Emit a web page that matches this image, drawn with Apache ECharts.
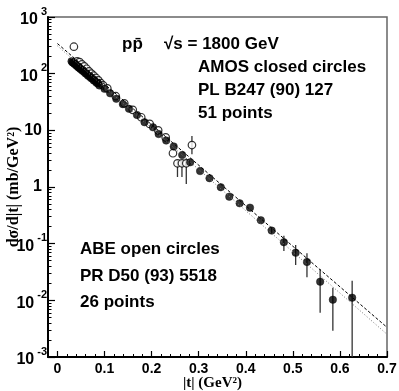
<!DOCTYPE html>
<html><head><meta charset="utf-8">
<script src="https://cdn.jsdelivr.net/npm/echarts@6/dist/echarts.min.js"></script>
<style>html,body{margin:0;padding:0;background:#fff}#c{width:399px;height:391px}</style>
</head><body><div id="c"></div>
<script>
// AMOS (closed circles), 51 points
const amosT = [0.030,0.032,0.034,0.036,0.038,0.040,0.042,0.044,0.046,0.048,0.050,0.053,0.056,0.059,0.062,0.065,0.068,0.071,0.074,0.077,0.080,0.083,0.086,0.089,
  0.100,0.112,0.125,0.139,0.152,0.169,0.185,0.203,0.215,0.231,0.247,0.265,0.282,0.303,0.323,0.347,
  0.365,0.387,0.409,0.432,0.455,0.481,0.506,0.530,0.558,0.585,0.626];
const amosY = [165,158,155,149,146,139,137,130,128,122,120,113,109,102,99,92,90,84,82,76,74,69,67,62,
  54,45,36,29,24,18.7,13.9,11.3,8.6,6.6,5.2,3.67,2.73,1.91,1.43,0.99,
  0.674,0.516,0.432,0.259,0.170,0.106,0.0693,0.0475,0.0213,0.01026,0.01113];
const amosErrT  = [0.455,0.481,0.506,0.530,0.558,0.585,0.626];
const amosErrLo = [0.150,0.0743,0.042,0.0255,0.00605,0.0029,0.001];
const amosErrHi = [0.192,0.138,0.0948,0.0676,0.0353,0.0167,0.0222];
// ABE (open circles), 26 points
const abeT = [0.035,0.042,0.047,0.052,0.057,0.062,0.067,0.072,0.077,0.082,0.087,0.092,0.097,
  0.106,0.124,0.142,0.160,0.178,0.196,0.214,0.230,0.2454,0.255,0.2645,0.2737,0.2857];
const abeY = [299,165,160,146,135,122,110,100,92,84,76,68,62,
  55,40,30,23,17,13,10,7.5,3.94,2.62,2.62,2.62,5.5];
const abeErrT  = [0.255,0.2645,0.2737,0.2857];
const abeErrLo = [1.5,1.5,1.13,3.8];
const abeErrHi = [3.0,3.0,3.2,7.94];
// fits
const fitDashT = [0, 0.7];
const fitDashY = [340, 0.00334];
const fitDotT = [0, 0.7];
const fitDotY = [310, 0.00252];
// ticks
const xMajor = [0,0.1,0.2,0.3,0.4,0.5,0.6,0.7];
const xMinor = [];
for (let i = -1; i <= 35; i++) xMinor.push(+(i*0.02).toFixed(2));
const yDecades = [0.001,0.01,0.1,1,10,100,1000];
const yMinor = [];
for (let d = -3; d < 3; d++) for (let k = 2; k <= 9; k++) yMinor.push(+(k*Math.pow(10,d)).toPrecision(3));

const SANS = 'Liberation Sans, Arial, sans-serif';
const SERIF = 'Liberation Serif, Times New Roman, serif';

const zip = (a,b) => a.map((v,i)=>[v,b[i]]);
const zip3 = (a,b,c) => a.map((v,i)=>[v,b[i],c[i]]);

function errRender(params, api) {
  const p1 = api.coord([api.value(0), api.value(1)]);
  const p2 = api.coord([api.value(0), api.value(2)]);
  return {type:'line', shape:{x1:p1[0],y1:p1[1],x2:p2[0],y2:p2[1]}, style:{stroke:'#333', lineWidth:1.3}};
}

const chart = echarts.init(document.getElementById('c'), null, {renderer:'canvas'});
const txt = (text, left, top) => ({text, left, top, padding:0, textStyle:{fontFamily:SANS, fontWeight:'bold', fontSize:17, lineHeight:17, color:'#000'}});
const option = {
  animation:false,
  title:[
    txt('pp\u0304', 122, 36),
    txt('\u221As = 1800 GeV', 164, 36),
    txt('AMOS closed circles', 198, 59),
    txt('PL B247 (90) 127', 198, 82),
    txt('51 points', 198, 105),
    txt('ABE open circles', 80, 241),
    txt('PR D50 (93) 5518', 80, 268),
    txt('26 points', 80, 294)
  ],
  grid:{left:48, top:17, right:12, bottom:34, outerBoundsMode:'none', containLabel:false,
        show:true, borderColor:'#666', borderWidth:1.5, backgroundColor:'transparent'},
  xAxis:[
    {type:'value', min:-0.02, max:0.7, position:'bottom',
     axisLine:{show:true, onZero:false, lineStyle:{color:'#000', width:2}},
     axisTick:{show:true, inside:true, length:6, customValues:xMajor, lineStyle:{color:'#000', width:1.2}},
     axisLabel:{customValues:xMajor, formatter:v=>String(+v.toFixed(1)), fontFamily:SANS, fontWeight:'bold', fontSize:14, color:'#000', margin:5},
     splitLine:{show:false},
     name:'|t| (GeV\u00B2)', nameLocation:'middle', nameGap:19, nameMoveOverlap:false,
     nameTextStyle:{fontFamily:SERIF, fontWeight:'bold', fontSize:15, color:'#000', padding:[0,10,0,0]}
    },
    {type:'value', min:-0.02, max:0.7, position:'bottom',
     axisLine:{show:false, onZero:false},
     axisTick:{show:true, inside:true, length:3, customValues:xMinor, lineStyle:{color:'#000', width:1}},
     axisLabel:{show:false}, splitLine:{show:false}
    }
  ],
  yAxis:[
    {type:'log', logBase:10, min:0.001, max:1000, position:'left',
     axisLine:{show:true, onZero:false, lineStyle:{color:'#000', width:2}},
     axisTick:{show:true, inside:true, length:7, customValues:yDecades, lineStyle:{color:'#000', width:1.2}},
     axisLabel:{customValues:yDecades, margin:1,
       formatter:v=>{const e=Math.round(Math.log10(v)); if(e===0) return '{b|1}{g|}'; if(e===1) return '{b|10}{g|}'; return '{b|10}{s|'+e+'}';},
       rich:{
         b:{fontFamily:SANS, fontWeight:'bold', fontSize:16, color:'#000', lineHeight:16, verticalAlign:'bottom'},
         s:{fontFamily:SANS, fontWeight:'bold', fontSize:11, color:'#000', lineHeight:22, verticalAlign:'top', padding:[0,0,0,3]},
         g:{width:5}
       }},
     splitLine:{show:false},
     name:'d\u03C3/d|t| (mb/GeV\u00B2)', nameLocation:'middle', nameGap:26, nameRotate:90, nameMoveOverlap:false,
     nameTextStyle:{fontFamily:SERIF, fontWeight:'bold', fontSize:16, color:'#000'}
    },
    {type:'log', logBase:10, min:0.001, max:1000, position:'left',
     axisLine:{show:false, onZero:false},
     axisTick:{show:true, inside:true, length:3.5, customValues:yMinor, lineStyle:{color:'#000', width:1}},
     axisLabel:{show:false}, splitLine:{show:false}
    }
  ],
  series:[
    {type:'custom', renderItem:errRender, data:zip3(amosErrT, amosErrLo, amosErrHi), clip:true, z:2},
    {type:'custom', renderItem:errRender, data:zip3(abeErrT, abeErrLo, abeErrHi), clip:true, z:2},
    {type:'scatter', data:zip(abeT, abeY), symbol:'circle', symbolSize:7.5,
     itemStyle:{color:'#fff', borderColor:'#000', borderWidth:1.2}, z:3},
    {type:'scatter', data:zip(amosT, amosY), symbol:'circle', symbolSize:7.5,
     itemStyle:{color:'#000', borderColor:'#000', borderWidth:0.5}, z:4},
    {type:'line', data:zip(fitDashT, fitDashY), showSymbol:false, symbol:'none',
     lineStyle:{color:'#000', width:1, type:[3,2]}, z:5},
    {type:'line', data:zip(fitDotT, fitDotY), showSymbol:false, symbol:'none',
     lineStyle:{color:'#777', width:1, type:[1,2]}, z:5}
  ]
};
chart.setOption(option);
</script></body></html>
